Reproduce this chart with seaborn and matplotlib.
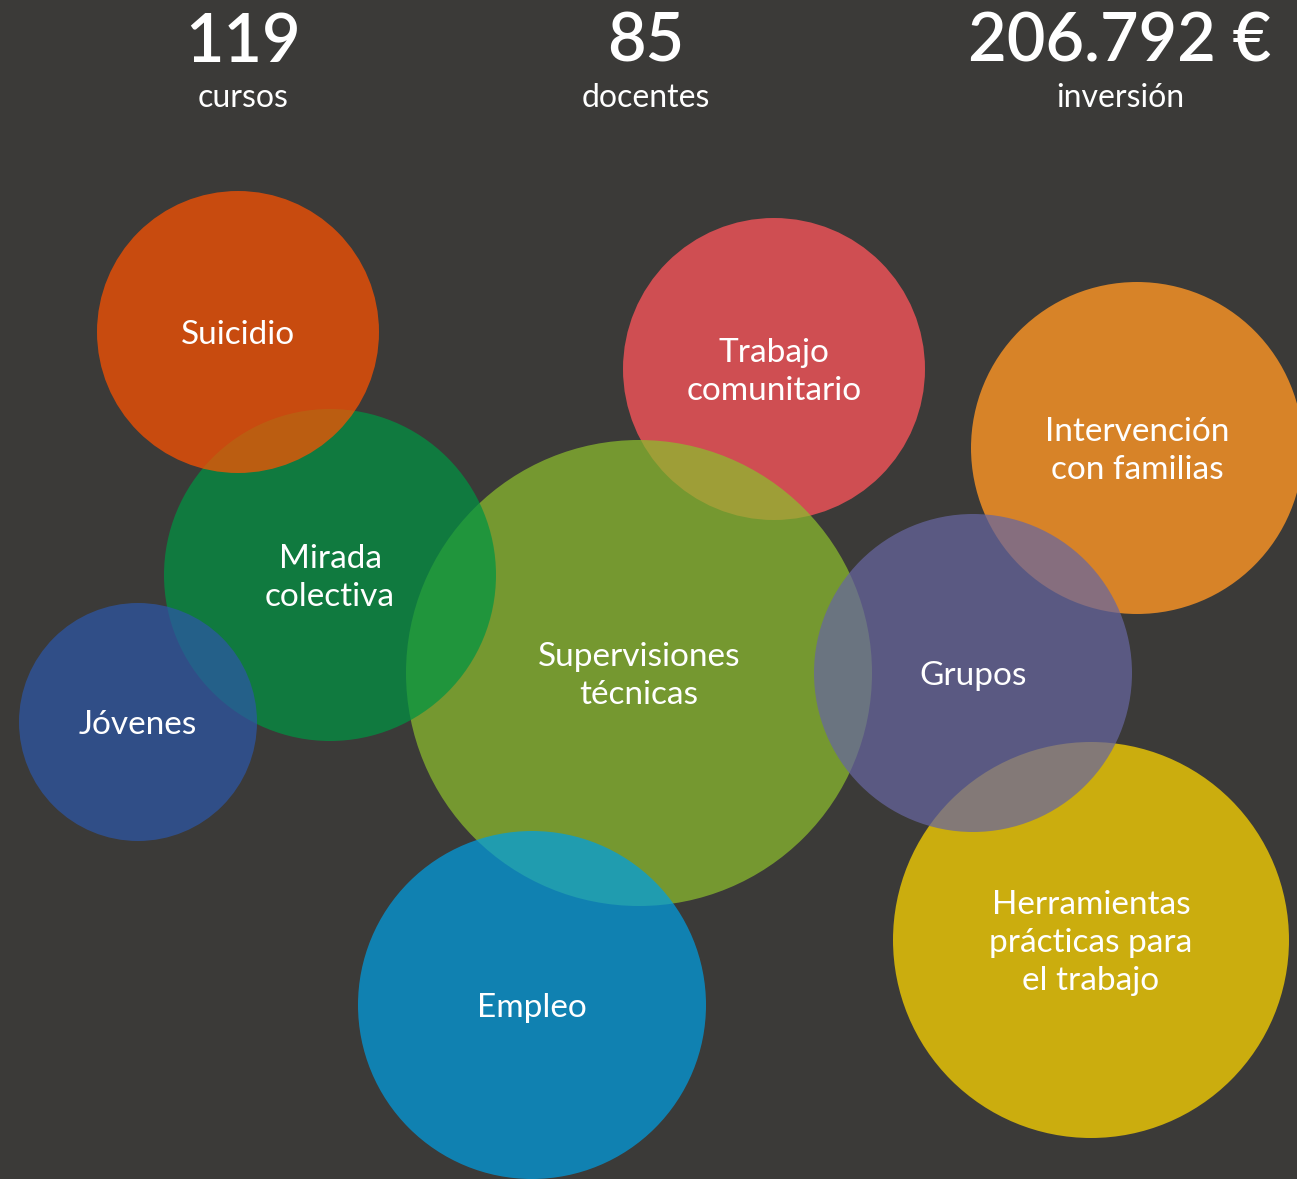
import numpy as np
import pandas as pd
import matplotlib
matplotlib.use("Agg")
import matplotlib.pyplot as plt
import matplotlib.colors as mcolors
import seaborn as sns

# datos de las burbujas (orden = orden de dibujo)
labels = ["Trabajo\ncomunitario", "Intervención\ncon familias",
          "Herramientas\nprácticas para\nel trabajo", "Supervisiones\ntécnicas",
          "Empleo", "Mirada\ncolectiva", "Suicidio", "Jóvenes", "Grupos"]
cx = [774, 1137, 1091, 639, 532, 330, 238, 138, 973]
cy = [369, 448, 940, 673, 1005, 575, 332, 722, 673]
radius = [151, 166, 198, 233, 174, 166, 141, 119, 159]
colors = ["#cf4e52", "#d78328", "#cbad0e", "#759930", "#0f82b2",
          "#107b3f", "#c84b0f", "#314e87", "#5b5a83"]
on_top = [False, False, False, True, True, True, True, True, True]

# cifras de cabecera
stat_values = ["119", "85", "206.792 €"]
stat_labels = ["cursos", "docentes", "inversión"]
stat_x = [243, 646, 1120]

bg = "#3b3a38"
alpha = 0.72
W, H, DPI = 1297, 1179, 100

sns.set_theme(style="white")
plt.rcParams["font.family"] = ["Lato", "DejaVu Sans"]

df = pd.DataFrame({"label": labels, "x": cx, "y": cy, "r": radius})
df["area"] = (2 * df["r"] * 72 / DPI) ** 2

fig = plt.figure(figsize=(W / DPI, H / DPI), dpi=DPI, facecolor=bg)
ax = fig.add_axes([0, 0, 1, 1])
ax.set_facecolor(bg)

sns.scatterplot(
    data=df, x="x", y="y", size="area",
    sizes=(df["area"].min(), df["area"].max()),
    size_norm=(df["area"].min(), df["area"].max()),
    legend=False, ax=ax, linewidth=0
)

# color "puro" para que al mezclar con el fondo dé el tono observado
bg_rgb = np.array(mcolors.to_rgb(bg))
rgba = []
for c, top in zip(colors, on_top):
    obs = np.array(mcolors.to_rgb(c))
    if top:
        pure = np.clip((obs - (1 - alpha) * bg_rgb) / alpha, 0, 1)
        rgba.append((*pure, alpha))
    else:
        rgba.append((*obs, 1.0))
coll = ax.collections[0]
coll.set_facecolor(rgba)
coll.set_edgecolor("none")

for lab, x, y in zip(labels, cx, cy):
    ax.text(x, y + 3, lab, color="white", fontsize=24, ha="center", va="center",
            linespacing=1.32)

for v, lab, x in zip(stat_values, stat_labels, stat_x):
    ax.text(x, 43, v, color="white", fontsize=48, ha="center", va="center",
            fontweight="semibold")
    ax.text(x, 98, lab, color="white", fontsize=23, ha="center", va="center")

ax.set_xlim(0, W)
ax.set_ylim(H, 0)
ax.axis("off")

fig.savefig("out.png", dpi=DPI, facecolor=bg)
